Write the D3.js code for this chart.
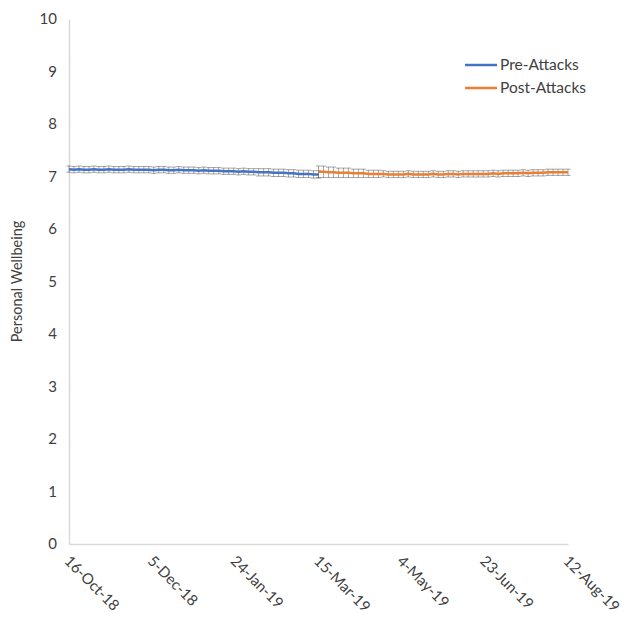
<!DOCTYPE html>
<html>
<head>
<meta charset="utf-8">
<script src="https://cdn.jsdelivr.net/npm/d3@7"></script>
<style>
  body { margin: 0; background: #fff; }
  text { font-family: Lato, "Open Sans", sans-serif; fill: #404040; }
</style>
</head>
<body>
<div id="chart"></div>
<script>
// Chart dimensions
var chart = {width: 625, height: 620};
var margin = {left: 69, right: 57, top: 19, bottom: 76};

// ---------------------------------------Data---------------------------------------
// readings every 3 days
var preStart = "2018-10-16";
var postStart = "2019-03-15";
var stepDays = 3;

var preValues = [
  7.14, 7.13, 7.14, 7.13, 7.13, 7.14, 7.13, 7.13, 7.14, 7.13,
  7.13, 7.13, 7.14, 7.13, 7.13, 7.13, 7.13, 7.12, 7.13, 7.13,
  7.12, 7.12, 7.13, 7.12, 7.12, 7.12, 7.11, 7.12, 7.11, 7.11,
  7.11, 7.10, 7.10, 7.10, 7.09, 7.10, 7.09, 7.09, 7.08, 7.08,
  7.08, 7.07, 7.07, 7.07, 7.06, 7.06, 7.05, 7.05, 7.05, 7.04, 7.04
];
var preErrors = [
  0.06, 0.06, 0.06, 0.06, 0.06, 0.06, 0.06, 0.06, 0.06, 0.06,
  0.06, 0.06, 0.06, 0.06, 0.06, 0.06, 0.06, 0.06, 0.06, 0.06,
  0.06, 0.06, 0.06, 0.06, 0.06, 0.06, 0.06, 0.06, 0.06, 0.06,
  0.06, 0.06, 0.06, 0.06, 0.06, 0.06, 0.06, 0.06, 0.07, 0.07,
  0.07, 0.07, 0.07, 0.07, 0.07, 0.07, 0.07, 0.07, 0.07, 0.07, 0.07
];
var postValues = [
  7.09, 7.09, 7.08, 7.08, 7.07, 7.07, 7.07, 7.06, 7.06, 7.06,
  7.05, 7.05, 7.05, 7.05, 7.04, 7.04, 7.04, 7.04, 7.05, 7.04,
  7.04, 7.04, 7.04, 7.05, 7.04, 7.04, 7.05, 7.05, 7.04, 7.05,
  7.05, 7.05, 7.05, 7.05, 7.05, 7.06, 7.05, 7.06, 7.06, 7.06,
  7.06, 7.07, 7.06, 7.07, 7.07, 7.07, 7.08, 7.08, 7.08, 7.08, 7.08
];
var postErrors = [
  0.11, 0.11, 0.10, 0.10, 0.09, 0.09, 0.09, 0.08, 0.08, 0.08,
  0.07, 0.07, 0.07, 0.06, 0.06, 0.06, 0.06, 0.06, 0.06, 0.06,
  0.06, 0.06, 0.06, 0.06, 0.06, 0.06, 0.06, 0.06, 0.06, 0.06,
  0.06, 0.06, 0.06, 0.06, 0.06, 0.06, 0.06, 0.06, 0.06, 0.06,
  0.06, 0.06, 0.06, 0.06, 0.06, 0.06, 0.06, 0.06, 0.06, 0.06, 0.06
];

var tickDates = ["2018-10-16", "2018-12-05", "2019-01-24", "2019-03-15",
                 "2019-05-04", "2019-06-23", "2019-08-12"];
var yTicks = [0, 1, 2, 3, 4, 5, 6, 7, 8, 9, 10];

var seriesNames = ["Pre-Attacks", "Post-Attacks"];
var colors = ["#4472C4", "#ED7D31"];

var parse = d3.timeParse("%Y-%m-%d");
var fmt = d3.timeFormat("%-d-%b-%y");

function build(start, values, errors) {
  var s = parse(start);
  return values.map(function(v, i) {
    return {date: d3.timeDay.offset(s, i * stepDays), value: v, err: errors[i]};
  });
}

var series = [
  build(preStart, preValues, preErrors),
  build(postStart, postValues, postErrors)
];

// ---------------------------------------Scales---------------------------------------
var x = d3.scaleTime()
  .domain([parse(tickDates[0]), parse(tickDates[tickDates.length - 1])])
  .range([margin.left, chart.width - margin.right]);

var y = d3.scaleLinear()
  .domain([0, 10])
  .range([chart.height - margin.bottom, margin.top]);

var svg = d3.select("#chart").append("svg")
  .attr("width", chart.width)
  .attr("height", chart.height);

// ---------------------------------------Axes---------------------------------------
var yAxis = svg.append("g")
  .attr("transform", "translate(" + margin.left + ",0)")
  .call(d3.axisLeft(y).tickValues(yTicks).tickSize(0).tickPadding(12).tickFormat(d3.format("d")));
yAxis.select(".domain").attr("stroke", "#d9d9d9").attr("stroke-width", 1.5);
yAxis.selectAll("text").attr("font-size", 15).style("fill", "#404040");

var xAxis = svg.append("g")
  .attr("transform", "translate(0," + y(0) + ")")
  .call(d3.axisBottom(x).tickValues(tickDates.map(parse)).tickSize(0).tickFormat(fmt));
xAxis.select(".domain").attr("stroke", "#d9d9d9").attr("stroke-width", 1.5);
xAxis.selectAll("text")
  .attr("font-size", 15)
  .style("fill", "#404040")
  .attr("text-anchor", "start")
  .attr("x", 0).attr("y", 0).attr("dy", 0)
  .attr("transform", "translate(-6,18) rotate(45)");

svg.append("text")
  .attr("transform", "translate(22," + y(5) + ") rotate(-90)")
  .attr("text-anchor", "middle")
  .attr("font-size", 14.5)
  .text("Personal Wellbeing");

// ---------------------------------------Error bars---------------------------------------
series.forEach(function(data) {
  var g = svg.append("g")
    .attr("stroke", "#3a3a3a")
    .attr("stroke-opacity", 0.45)
    .attr("stroke-width", 1);
  g.selectAll("line.bar").data(data).enter().append("line")
    .attr("x1", function(d) { return x(d.date); })
    .attr("x2", function(d) { return x(d.date); })
    .attr("y1", function(d) { return y(d.value - d.err); })
    .attr("y2", function(d) { return y(d.value + d.err); });
  g.selectAll("line.top").data(data).enter().append("line")
    .attr("x1", function(d) { return x(d.date) - 2.5; })
    .attr("x2", function(d) { return x(d.date) + 2.5; })
    .attr("y1", function(d) { return y(d.value + d.err); })
    .attr("y2", function(d) { return y(d.value + d.err); });
  g.selectAll("line.bot").data(data).enter().append("line")
    .attr("x1", function(d) { return x(d.date) - 2.5; })
    .attr("x2", function(d) { return x(d.date) + 2.5; })
    .attr("y1", function(d) { return y(d.value - d.err); })
    .attr("y2", function(d) { return y(d.value - d.err); });
});

// ---------------------------------------Lines---------------------------------------
var line = d3.line()
  .x(function(d) { return x(d.date); })
  .y(function(d) { return y(d.value); });

series.forEach(function(data, i) {
  svg.append("path")
    .datum(data)
    .attr("fill", "none")
    .attr("stroke", colors[i])
    .attr("stroke-width", 2.5)
    .attr("d", line);
});

// ---------------------------------------Legend---------------------------------------
var legend = svg.append("g").selectAll("g")
  .data(seriesNames)
  .enter().append("g")
  .attr("transform", function(d, i) { return "translate(465," + (65 + i * 23) + ")"; });

legend.append("line")
  .attr("x1", 0).attr("x2", 32)
  .attr("stroke", function(d, i) { return colors[i]; })
  .attr("stroke-width", 2.5);

legend.append("text")
  .attr("x", 35)
  .attr("dy", "0.35em")
  .attr("font-size", 15.5)
  .text(function(d) { return d; });
</script>
</body>
</html>
